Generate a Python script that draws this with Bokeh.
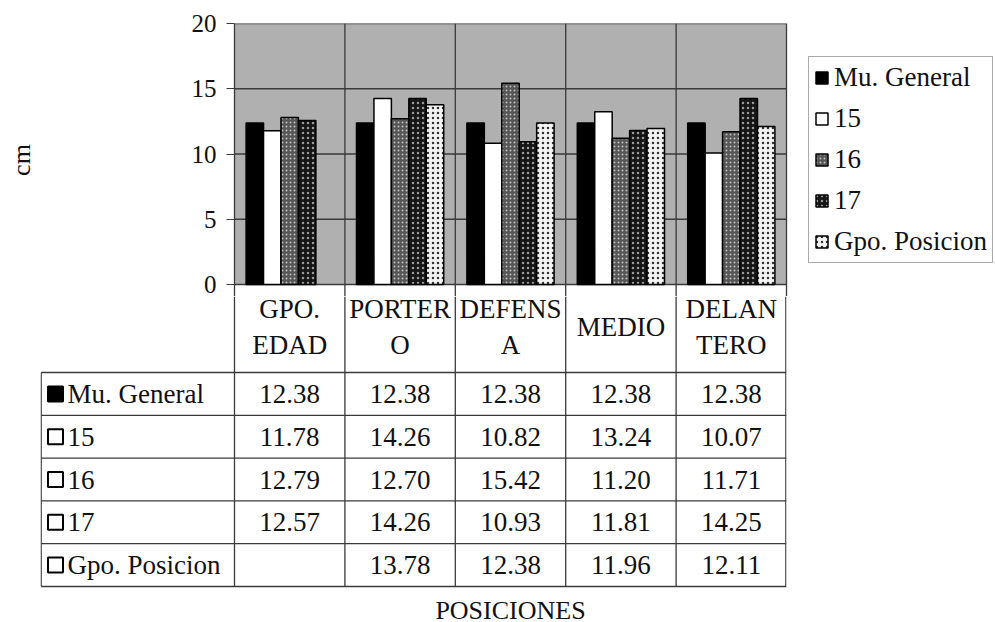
from bokeh.plotting import figure
from bokeh.models import Range1d, FixedTicker, Legend, LegendItem
from bokeh.embed import file_html
from bokeh.resources import INLINE
from bokeh.core.properties import value

# ---------------- data ----------------
categories = ["GPO.\nEDAD", "PORTER\nO", "DEFENS\nA", "MEDIO", "DELAN\nTERO"]
series_names = ["Mu. General", "15", "16", "17", "Gpo. Posicion"]
mu_general = [12.38, 12.38, 12.38, 12.38, 12.38]
edad_15 = [11.78, 14.26, 10.82, 13.24, 10.07]
edad_16 = [12.79, 12.70, 15.42, 11.20, 11.71]
edad_17 = [12.57, 14.26, 10.93, 11.81, 14.25]
gpo_posicion = [None, 13.78, 12.38, 11.96, 12.11]
y_ticks = [0, 5, 10, 15, 20]
y_label = "cm"
x_label = "POSICIONES"

series_values = [mu_general, edad_15, edad_16, edad_17, gpo_posicion]

# ---------------- layout constants ----------------
FONT = "Liberation Serif"
TOTAL_W = 995
TOTAL_H = 622
LEFT = 234
CELL_RIGHT = 786
N = len(categories)
UNIT = (CELL_RIGHT - LEFT) / N
X_END = N + (TOTAL_W - CELL_RIGHT) / UNIT
TOP = 23
PLOT_PX = 261            # y = 0 .. 20
PX_Y = PLOT_PX / (y_ticks[-1] - y_ticks[0])
STUB = 12                # top part of the header row, kept in the chart figure
CHART_H = TOP + PLOT_PX + STUB
TABLE_H = TOTAL_H - CHART_H
HEADER_REST = 76         # remaining header row height inside the table figure
ROW_H = 42.8
TXT = "27px"
LINE = "#3a3a3a"

styles = [
    dict(fill_color="black"),
    dict(fill_color="white"),
    dict(fill_color="#555555", hatch_pattern="dot", hatch_color="#c0c0c0", hatch_scale=4, hatch_weight=1),
    dict(fill_color="#151515", hatch_pattern="dot", hatch_color="#9a9a9a", hatch_scale=5, hatch_weight=1),
    dict(fill_color="#f4f4f4", hatch_pattern="dot", hatch_color="#333333", hatch_scale=5, hatch_weight=1),
]

# ---------------- chart ----------------
y_low = -STUB / PX_Y
chart = figure(width=TOTAL_W, height=CHART_H, output_backend="svg", toolbar_location=None,
               x_range=Range1d(0, X_END), y_range=Range1d(y_low, y_ticks[-1]),
               min_border_left=LEFT, min_border_right=0, min_border_top=TOP,
               min_border_bottom=0)
chart.background_fill_color = "white"
chart.border_fill_color = "white"
chart.outline_line_color = None
chart.grid.visible = False
chart.xaxis.visible = False

# gray plotting area and its grid (limited to the category cells)
chart.quad(left=[0], right=[N], bottom=[y_ticks[0]], top=[y_ticks[-1]],
           fill_color="#b0b0b0", line_color=None, level="underlay")
chart.segment(x0=[0] * len(y_ticks), x1=[N] * len(y_ticks), y0=y_ticks, y1=y_ticks,
              line_color=LINE, line_width=1.3, level="underlay")
vb = list(range(1, N + 1))
chart.segment(x0=vb, x1=vb, y0=[y_low] * len(vb), y1=[y_ticks[-1]] * len(vb),
              line_color=LINE, line_width=1.3, level="underlay")

ya = chart.yaxis[0]
ya.ticker = FixedTicker(ticks=y_ticks)
ya.major_tick_out = 8
ya.major_tick_in = 0
ya.minor_tick_out = 0
ya.minor_tick_in = 0
ya.major_label_standoff = 10
ya.major_label_text_font = FONT
ya.major_label_text_font_size = "25px"
ya.major_label_text_color = "#111111"
ya.axis_line_color = LINE
ya.axis_line_width = 1.3
ya.major_tick_line_color = LINE
ya.axis_label = y_label
ya.axis_label_text_font = FONT
ya.axis_label_text_font_size = "26px"
ya.axis_label_text_font_style = "normal"
ya.axis_label_text_color = "#111111"
ya.axis_label_standoff = 153

bw = 0.158
legend_items = []
for j, (name, vals) in enumerate(zip(series_names, series_values)):
    xs, tops = [], []
    for i, v in enumerate(vals):
        if v is None:
            continue
        xs.append(i + 0.5 + (j - 2) * bw)
        tops.append(v)
    r = chart.vbar(x=xs, top=tops, bottom=0, width=bw, line_color="black", line_width=1.5, **styles[j])
    legend_items.append(LegendItem(label=name, renderers=[r]))

legend = Legend(items=legend_items, location=(574, 33), margin=0, padding=5, spacing=10,
                glyph_width=15, glyph_height=15, label_height=30, label_standoff=5,
                label_text_font=FONT, label_text_font_size="27px", label_text_color="#111111",
                border_line_color="#555555", border_line_width=1.2, background_fill_color="white",
                background_fill_alpha=1)
chart.add_layout(legend, "center")

# ---------------- data table ----------------
x0 = -(LEFT - 40) / UNIT
table = figure(width=TOTAL_W, height=TABLE_H, output_backend="svg", toolbar_location=None,
               x_range=Range1d(x0, N), y_range=Range1d(-TABLE_H, 0),
               min_border_left=40, min_border_right=TOTAL_W - CELL_RIGHT,
               min_border_top=0, min_border_bottom=0)
table.axis.visible = False
table.grid.visible = False
table.outline_line_color = None
table.background_fill_color = "white"
table.border_fill_color = "white"

n_rows = len(series_names)
row_tops = [-(HEADER_REST + ROW_H * k) for k in range(n_rows + 1)]
table_bottom = row_tops[-1]

# header labels
table.text(x=[i + 0.5 for i in range(N)], y=[-(HEADER_REST - STUB) / 2 + 2] * N, text=categories,
           text_font=value(FONT), text_font_size=TXT, text_align="center",
           text_baseline="middle", text_line_height=1.2, text_color="#111111")

# grid of the table
table.segment(x0=[x0 + 0.006] * len(row_tops), y0=row_tops, x1=[N] * len(row_tops), y1=row_tops,
              line_color=LINE, line_width=1.3)
vx = list(range(N)) + [N - 0.006]
table.segment(x0=vx, y0=[0] * len(vx), x1=vx, y1=[table_bottom] * len(vx),
              line_color=LINE, line_width=1.3)
table.segment(x0=[x0 + 0.006], y0=[row_tops[0]], x1=[x0 + 0.006], y1=[table_bottom],
              line_color=LINE, line_width=1.3)

row_y = [(row_tops[k] + row_tops[k + 1]) / 2 for k in range(n_rows)]
table.scatter(x=[x0 + 15 / UNIT] * n_rows, y=row_y, marker="square", size=15,
              fill_color=["black"] + ["white"] * (n_rows - 1), line_color="black", line_width=2)
table.text(x=[x0 + 27 / UNIT] * n_rows, y=row_y, text=series_names,
           text_font=value(FONT), text_font_size=TXT, text_align="left",
           text_baseline="middle", text_color="#111111")

tx, ty, tt = [], [], []
for k, vals in enumerate(series_values):
    for i, v in enumerate(vals):
        if v is None:
            continue
        tx.append(i + 0.5); ty.append(row_y[k]); tt.append(f"{v:.2f}")
table.text(x=tx, y=ty, text=tt, text_font=value(FONT), text_font_size=TXT,
           text_align="center", text_baseline="middle", text_color="#111111")

table.text(x=[N / 2], y=[-(610 - CHART_H)], text=[x_label], text_font=value(FONT), text_font_size="26px",
           text_align="center", text_baseline="alphabetic", text_color="#111111")

open("out.html", "w").write(file_html([chart, table], INLINE))
